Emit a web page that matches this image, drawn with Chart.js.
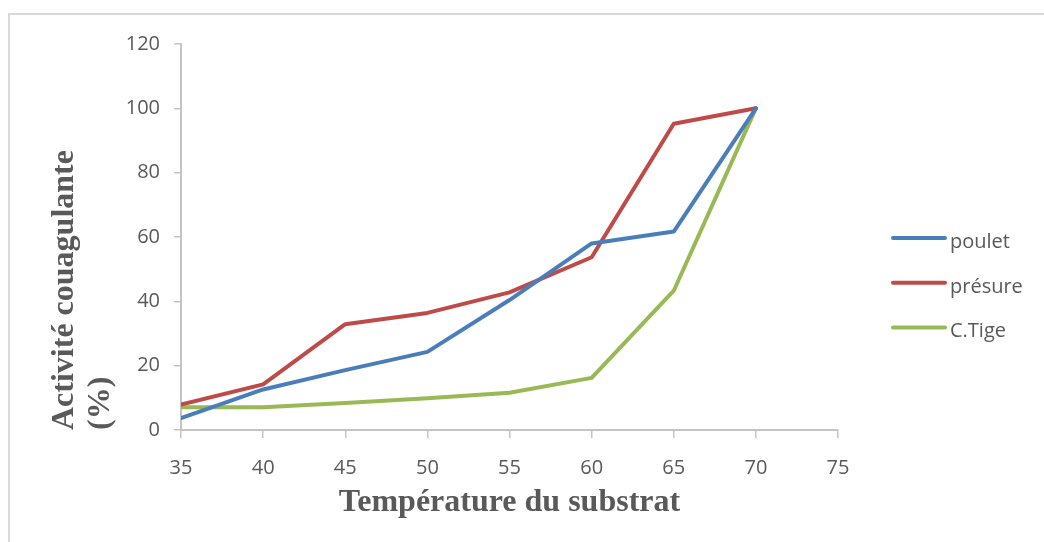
<!DOCTYPE html>
<html>
<head>
<meta charset="utf-8">
<script src="https://cdn.jsdelivr.net/npm/chart.js@4.4.0/dist/chart.umd.min.js"></script>
<style>
  html, body { margin: 0; padding: 0; background: #fff; overflow: hidden; }
  #frame { position: absolute; left: 8px; top: 13px; width: 1100px; height: 600px; border: 2px solid #d9d9d9; }
  #wrap { position: absolute; left: 0; top: 0; width: 1044px; height: 542px; }
</style>
</head>
<body>
<div id="frame"></div>
<div id="wrap"><canvas id="tempChart" width="1044" height="542"></canvas></div>
<script>
// Activité couagulante vs température
var temperatures = [35, 40, 45, 50, 55, 60, 65, 70];
var poulet  = [3.7, 12.6, 18.6, 24.3, 40.4, 58.0, 61.7, 100];
var presure = [7.9, 14.2, 32.9, 36.4, 42.8, 53.7, 95.2, 100];
var cTige   = [7.1, 7.1, 8.4, 9.9, 11.6, 16.2, 43.3, 100];
var seriesNames = ['poulet', 'présure', 'C.Tige'];
var xTicks = { min: 35, max: 75, step: 5 };
var yTicks = { min: 0, max: 120, step: 20 };

function toPoints(values) {
    return values.map((v, i) => ({ x: temperatures[i], y: v }));
}

// legend drawn on the right, Excel style
var sideLegend = {
    id: 'sideLegend',
    afterDraw(chart) {
        var ctx = chart.ctx;
        ctx.save();
        chart.data.datasets.forEach((ds, i) => {
            var y = 238 + i * 44.8;
            ctx.strokeStyle = ds.borderColor;
            ctx.lineWidth = 4;
            ctx.lineCap = 'round';
            ctx.beginPath();
            ctx.moveTo(893, y);
            ctx.lineTo(945, y);
            ctx.stroke();
            ctx.fillStyle = '#595959';
            ctx.font = '20px "Open Sans"';
            ctx.textBaseline = 'middle';
            ctx.fillText(ds.label, 950, y + 4);
        });
        ctx.restore();
    }
};

var ctx = document.getElementById('tempChart').getContext('2d');
var tempChart = new Chart(ctx, {
    type: 'line',
    data: {
        datasets: [
            {
                label: seriesNames[0],
                data: toPoints(poulet),
                borderColor: '#4A7EBB',
                borderWidth: 4,
            },
            {
                label: seriesNames[1],
                data: toPoints(presure),
                borderColor: '#BE4B48',
                borderWidth: 4,
            },
            {
                label: seriesNames[2],
                data: toPoints(cTige),
                borderColor: '#98B954',
                borderWidth: 4,
            }
        ]
    },
    options: {
        responsive: false,
        animation: false,
        layout: { padding: { left: 40, top: 44, right: 206, bottom: 0 } },
        elements: {
            point: { radius: 0, hoverRadius: 0 },
            line: { tension: 0, borderJoinStyle: 'round', borderCapStyle: 'round' }
        },
        scales: {
            x: {
                type: 'linear',
                min: xTicks.min,
                max: xTicks.max,
                afterFit: s => { s.height = 112; },
                ticks: {
                    stepSize: xTicks.step,
                    padding: 18,
                    color: '#595959',
                    font: { family: 'Open Sans', size: 20 }
                },
                grid: { drawOnChartArea: false, tickLength: 8, color: '#c4c4c4', lineWidth: 1.5 },
                border: { color: '#c4c4c4', width: 2 },
                title: {
                    display: true,
                    text: 'Température du substrat',
                    color: '#595959',
                    font: { family: 'Liberation Serif', size: 32, weight: 'bold', lineHeight: 1.15 },
                    padding: { top: 0, bottom: 21 }
                }
            },
            y: {
                min: yTicks.min,
                max: yTicks.max,
                afterFit: s => { s.width = 141; },
                ticks: {
                    stepSize: yTicks.step,
                    padding: 14,
                    color: '#595959',
                    font: { family: 'Open Sans', size: 20 }
                },
                grid: { drawOnChartArea: false, tickLength: 7, color: '#c4c4c4', lineWidth: 1.5 },
                border: { color: '#c4c4c4', width: 2 },
                title: {
                    display: true,
                    text: ['Activité couagulante', '(%)'],
                    align: 'start',
                    color: '#595959',
                    font: { family: 'Liberation Serif', size: 32, weight: 'bold', lineHeight: 1.15 },
                    padding: { top: 6, bottom: 0 }
                }
            }
        },
        plugins: {
            legend: { display: false },
            tooltip: { enabled: false }
        }
    },
    plugins: [sideLegend]
});
</script>
</body>
</html>
